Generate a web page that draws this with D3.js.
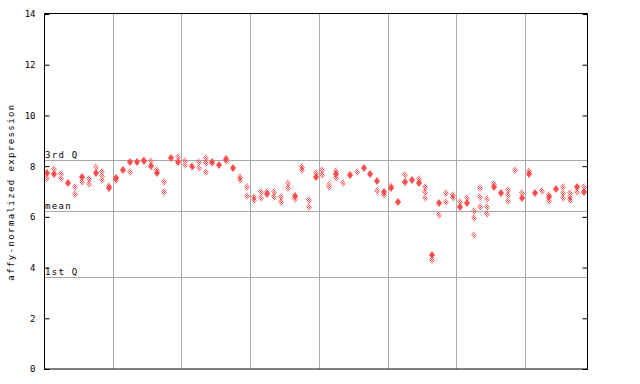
<!DOCTYPE html>
<html>
<head>
<meta charset="utf-8">
<script src="https://cdn.jsdelivr.net/npm/d3@7/dist/d3.min.js"></script>
<style>
  html, body { margin: 0; padding: 0; background: #fff; }
  svg { display: block; }
  text { font-family: "DejaVu Sans Mono", monospace; font-size: 9px; fill: #000; }
</style>
</head>
<body>
<svg id="chart" width="640" height="384"></svg>
<script>
// ---- data ----
const yTicks = [0, 2, 4, 6, 8, 10, 12, 14];
const groupSizes = [10, 10, 10, 10, 10, 10, 10, 9];
// solid diamond per column (null = none)
const solidValues = [
  7.72, 7.69, null, 7.35, null, 7.56, null, 7.72, null, 7.12,
  7.52, 7.85, 8.15, 8.15, 8.20, 8.02, 7.72, null, 8.33, 8.15,
  null, null, null, null, 8.18, 8.05, 8.28, 7.94, null, null,
  null, null, 6.90, null, null, null, 6.84, null, null, 7.58,
  null, null, 7.69, null, 7.65, null, 7.91, 7.69, 7.43, 6.99,
  7.12, 6.60, 7.39, 7.45, 7.35, null, 4.50, 6.53, null, null,
  6.40, 6.56, null, null, null, 7.17, 6.93, null, null, 6.73,
  7.69, 6.95, null, 6.77, 7.10, null, null, 7.19, 6.97
];
// checkered diamonds per column
const checkValues = [
  [7.52], [7.89], [7.68, 7.52], [], [7.19, 6.89], [7.39], [7.49, 7.28], [7.98], [7.78, 7.62, 7.45], [7.20],
  [7.45], [], [7.76], [], [8.24], [8.21], [7.85], [7.39, 6.99], [], [8.37],
  [8.20, 8.04], [8.00, 7.98], [8.15, 7.94], [8.31, 8.11, 7.78], [8.12], [], [8.20], [], [7.58, 7.45], [7.17, 6.84],
  [6.80, 6.66], [6.99, 6.76], [7.00], [6.99, 6.80], [6.80, 6.57], [7.32, 7.15], [6.70], [7.98, 7.85], [6.66, 6.40], [7.74],
  [7.85, 7.65], [7.25, 7.18], [7.82, 7.52], [7.32], [], [7.76], [], [], [7.03], [6.86],
  [7.22], [], [7.64], [], [7.48], [7.17, 6.97, 6.73], [4.30], [6.06], [6.93, 6.60], [6.86, 6.73],
  [6.60], [6.73], [6.23, 5.94, 5.27], [7.12, 6.77, 6.38], [6.69, 6.38, 6.11], [7.28], [], [7.06, 6.86, 6.64], [7.85], [6.95],
  [7.82], [], [7.02], [6.86, 6.64], [], [7.17, 6.95, 6.73], [6.93, 6.80, 6.66], [6.99], [7.19]
];
const refLines = [
  { label: "3rd Q", value: 8.24 },
  { label: "mean", value: 6.23 },
  { label: "1st Q", value: 3.62 }
];
const yTitle = "affy-normalized expression";

// ---- layout ----
const L = 44, R = 587, T = 14, B = 369;
const red = "#ff4c4c";
const nCols = solidValues.length;

const svg = d3.select("#chart");
const x = d3.scaleLinear().domain([0, nCols]).range([L, R]);
const y = d3.scaleLinear().domain([0, 14]).range([B, T]);

const defs = svg.append("defs");
const pat = defs.append("pattern").attr("id", "chk")
  .attr("patternUnits", "userSpaceOnUse").attr("width", 2).attr("height", 2);
pat.append("rect").attr("x", 0).attr("y", 0).attr("width", 1).attr("height", 1).attr("fill", red);
pat.append("rect").attr("x", 1).attr("y", 1).attr("width", 1).attr("height", 1).attr("fill", red);

// group separators
let acc = 0;
const bounds = [];
groupSizes.forEach((g, i) => { acc += g; if (i < groupSizes.length - 1) bounds.push(acc); });
svg.append("g").selectAll("line").data(bounds).join("line")
  .attr("x1", d => Math.round(x(d)) + 0.5).attr("x2", d => Math.round(x(d)) + 0.5)
  .attr("y1", T).attr("y2", B)
  .attr("stroke", "#a8a8a8").attr("stroke-width", 1);

// reference lines
const ref = svg.append("g");
ref.selectAll("line").data(refLines).join("line")
  .attr("x1", L).attr("x2", R)
  .attr("y1", d => Math.round(y(d.value)) + 0.5).attr("y2", d => Math.round(y(d.value)) + 0.5)
  .attr("stroke", "#a8a8a8").attr("stroke-width", 1);
ref.selectAll("text").data(refLines).join("text")
  .attr("x", L + 1).attr("y", d => Math.round(y(d.value)) - 2)
  .style("letter-spacing", "1.3px")
  .text(d => d.label);

// points
const pts = svg.append("g");
const diamond = "M0,-4L3,0L0,4L-3,0Z";
const checkPts = [];
checkValues.forEach((arr, i) => arr.forEach(v => checkPts.push({ i, v })));
pts.selectAll("path.chk").data(checkPts).join("path")
  .attr("class", "chk")
  .attr("d", diamond)
  .attr("transform", d => `translate(${Math.round(x(d.i + 0.5))},${Math.round(y(d.v))})`)
  .attr("fill", "url(#chk)");
const solidPts = solidValues.map((v, i) => ({ i, v })).filter(d => d.v !== null);
pts.selectAll("path.sol").data(solidPts).join("path")
  .attr("class", "sol")
  .attr("d", diamond)
  .attr("transform", d => `translate(${Math.round(x(d.i + 0.5))},${Math.round(y(d.v))})`)
  .attr("fill", red);

// frame
svg.append("rect").attr("x", L + 0.5).attr("y", T - 0.5).attr("width", R - L).attr("height", B - T + 0.5)
  .attr("fill", "none").attr("stroke", "#000").attr("stroke-width", 1);

// left axis
const yAxis = d3.axisLeft(y).tickValues(yTicks).tickSize(-5).tickPadding(9).tickFormat(d3.format("d"));
const ga = svg.append("g").attr("transform", `translate(${L + 0.5},0)`).call(yAxis);
ga.select(".domain").remove();
ga.selectAll("text").style("font-family", '"DejaVu Sans Mono", monospace').style("font-size", "9px");

// right axis ticks
const yAxisR = d3.axisRight(y).tickValues(yTicks).tickSize(-5).tickFormat("");
const gr = svg.append("g").attr("transform", `translate(${R + 0.5},0)`).call(yAxisR);
gr.select(".domain").remove();

// y title
svg.append("text")
  .attr("transform", `translate(14,192) rotate(-90)`)
  .attr("text-anchor", "middle")
  .style("letter-spacing", "1.4px")
  .text(yTitle);
</script>
</body>
</html>
